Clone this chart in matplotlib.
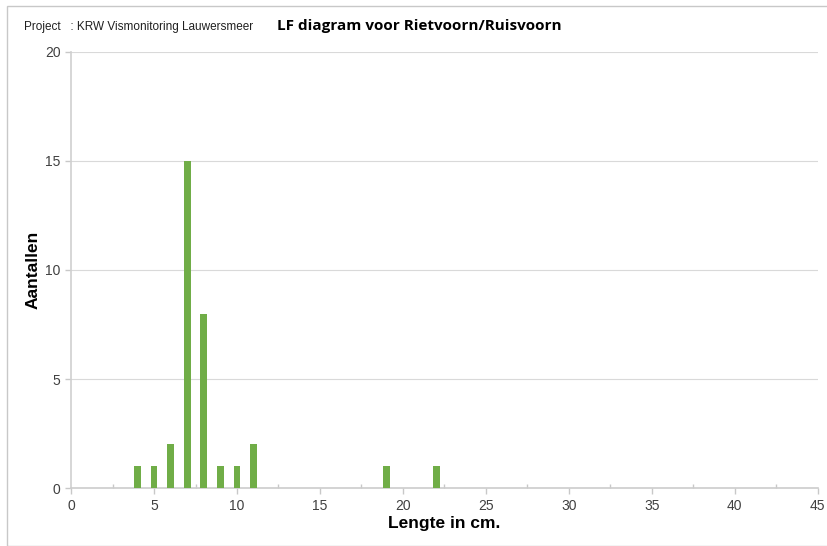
import numpy as np
import matplotlib.pyplot as plt
from matplotlib.patches import Rectangle
from matplotlib.ticker import MultipleLocator

# lengteklassen (cm) en aantallen
lengte = [4, 5, 6, 7, 8, 9, 10, 11, 19, 22]
aantal = [1, 1, 2, 15, 8, 1, 1, 2, 1, 1]

plt.rcParams['font.family'] = ['Liberation Sans', 'DejaVu Sans']

fig = plt.figure(figsize=(8.27, 5.46), dpi=100)
ax = fig.add_axes([0.0859, 0.106, 0.903, 0.799])

# kader rond de hele grafiek
fig.patches.append(Rectangle((7 / 827, 0), 1, 1 - 6 / 546, transform=fig.transFigure,
                             fill=False, edgecolor='#c8c8c8', linewidth=1.0))

ax.bar(lengte, aantal, width=0.42, color='#70AD47', zorder=3)

ax.set_xlim(0, 45)
ax.set_ylim(0, 20)
ax.xaxis.set_major_locator(MultipleLocator(5))
ax.xaxis.set_minor_locator(MultipleLocator(2.5))
ax.yaxis.set_major_locator(MultipleLocator(5))

ax.grid(axis='y', color='#d9d9d9', linewidth=0.8, zorder=0)
for side in ['top', 'right']:
    ax.spines[side].set_visible(False)
ax.spines['left'].set_color('#d0d0d0')
ax.spines['bottom'].set_color('#cccccc')
ax.spines['left'].set_linewidth(1.2)
ax.spines['bottom'].set_linewidth(1.2)

ax.tick_params(axis='both', which='major', labelsize=10, labelcolor='#404040',
               color='#c8c8c8', length=4, width=1)
ax.tick_params(axis='x', which='minor', color='#c8c8c8', length=3, width=1, direction='in')
ax.tick_params(axis='x', which='major', pad=4)

ax.set_xlabel('Lengte in cm.', fontsize=12.5, fontweight='bold', labelpad=2)
ax.set_ylabel('Aantallen', fontsize=12.5, fontweight='bold', labelpad=3)

fig.text(24 / 827, 1 - 27 / 546, 'Project   : KRW Vismonitoring Lauwersmeer',
         fontsize=8.5, va='center', ha='left', color='#202020')
fig.text(277 / 827, 1 - 26 / 546, 'LF diagram voor Rietvoorn/Ruisvoorn',
         fontsize=11, fontweight='bold', va='center', ha='left',
         family=['Open Sans', 'DejaVu Sans'])

fig.savefig('out.png', dpi=100)
